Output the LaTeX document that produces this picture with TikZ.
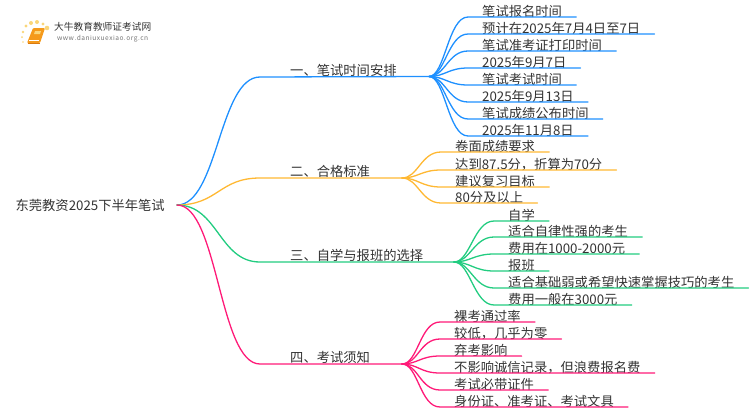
\documentclass[tikz,border=0pt]{standalone}
\usepackage{fontspec}
\setmainfont{Noto Sans CJK SC}
\definecolor{linkblue}{HTML}{1E90FF}
\definecolor{linkorange}{HTML}{FFB833}
\definecolor{linkgreen}{HTML}{22CC80}
\definecolor{linkpink}{HTML}{FF1A78}
\definecolor{inktext}{HTML}{333333}
\definecolor{bookorange}{HTML}{F59A1C}
\definecolor{bookedge}{HTML}{D97A10}
\definecolor{dotyellow}{HTML}{FAD67A}
\tikzset{
  every node/.style={font=\fontsize{13.3}{14}\selectfont, text=inktext, inner sep=0pt},
  rootnode/.style={anchor=east},
  branchnode/.style={anchor=south west, text height=11pt, text depth=1.5pt},
  leafnode/.style={anchor=south west, inner xsep=14pt, text height=11pt, text depth=0.6pt},
  link/.style={line width=1.3pt, line cap=round}
}
\begin{document}
\begin{tikzpicture}[x=1pt, y=-1pt]
\useasboundingbox (0,0) rectangle (750,410);
% Logo
    \foreach \px/\py/\pr in {23/32/1.3,26/26/1.6,31/23/2,37/22/2,43/24/1.7,47/28/2.3,22/37/1,23/42/0.8}
        \fill[dotyellow] (\px,\py) circle(\pr);
    \fill[bookorange, rounded corners=1pt] (33,28) -- (45,28) -- (40,43) -- (27,43) -- cycle;
    \fill[dotyellow] (35,31) -- (41,31) -- (40,34) -- (34,34) -- cycle;
    \draw[white, line width=0.5pt] (29,40.5) -- (39,40.5);
    \draw[bookedge, line width=0.6pt] (27.5,43) -- (39.5,43);
    \node[anchor=west, font=\fontsize{9.7}{12}\selectfont] (logotitle) at (54,27) {大牛教育教师证考试网};
    \node[anchor=west, font=\fontsize{6.6}{8}\selectfont, text=black!55, text width=91pt, align=justify] (logourl) at (57,39) {w\hfill w\hfill w\hfill .\hfill d\hfill a\hfill n\hfill i\hfill u\hfill x\hfill u\hfill e\hfill x\hfill i\hfill a\hfill o\hfill .\hfill o\hfill r\hfill g\hfill .\hfill c\hfill n};
% Root
    \node[rootnode] (root) at (165,205) {东莞教资2025下半年笔试};
    \coordinate (rootend) at (177,205);
% Branches
    \node[branchnode] (one) at (290,77) {一、笔试时间安排};
    \node[branchnode] (two) at (290,178) {二、合格标准};
    \node[branchnode] (three) at (290,262) {三、自学与报班的选择};
    \node[branchnode] (four) at (290,364) {四、考试须知};
    \coordinate (onehub) at (429,76.5);
    \coordinate (twohub) at (402,178);
    \coordinate (threehub) at (454,262);
    \coordinate (fourhub) at (402,364);
    \draw[link, linkblue] (rootend) .. controls (218,205) and (219,77) .. (260,77) -- (onehub);
    \draw[link, linkorange] (rootend) .. controls (218,205) and (219,178) .. (260,178) -- (twohub);
    \draw[link, linkgreen] (rootend) .. controls (218,205) and (219,262) .. (260,262) -- (threehub);
    \draw[link, linkpink] (rootend) .. controls (218,205) and (219,364) .. (260,364) -- (fourhub);
% Leaves of the first branch
    \node[leafnode] (one1) at (468,17) {笔试报名时间};
    \node[leafnode] (one2) at (468,34) {预计在2025年7月4日至7日};
    \node[leafnode] (one3) at (468,51) {笔试准考证打印时间};
    \node[leafnode] (one4) at (468,68) {2025年9月7日};
    \node[leafnode] (one5) at (468,85) {笔试考试时间};
    \node[leafnode] (one6) at (468,102) {2025年9月13日};
    \node[leafnode] (one7) at (468,119) {笔试成绩公布时间};
    \node[leafnode] (one8) at (468,136) {2025年11月8日};
    \foreach \leaf in {one1,one2,one3,one4,one5,one6,one7,one8}
        \draw[link, linkblue] (onehub) .. controls +(16,0) and +(-20,0) .. (\leaf.south west) -- (\leaf.south east);
% Leaves of the second branch
    \node[leafnode] (two1) at (441,152) {卷面成绩要求};
    \node[leafnode] (two2) at (441,170) {达到87.5分，折算为70分};
    \node[leafnode] (two3) at (441,187) {建议复习目标};
    \node[leafnode] (two4) at (441,203) {80分及以上};
    \foreach \leaf in {two1,two2,two3,two4}
        \draw[link, linkorange] (twohub) .. controls +(16,0) and +(-20,0) .. (\leaf.south west) -- (\leaf.south east);
% Leaves of the third branch
    \node[leafnode] (three1) at (494,221) {自学};
    \node[leafnode] (three2) at (494,237) {适合自律性强的考生};
    \node[leafnode] (three3) at (494,254) {费用在1000-2000元};
    \node[leafnode] (three4) at (494,271) {报班};
    \node[leafnode] (three5) at (494,288) {适合基础弱或希望快速掌握技巧的考生};
    \node[leafnode] (three6) at (494,305) {费用一般在3000元};
    \foreach \leaf in {three1,three2,three3,three4,three5,three6}
        \draw[link, linkgreen] (threehub) .. controls +(16,0) and +(-20,0) .. (\leaf.south west) -- (\leaf.south east);
% Leaves of the fourth branch
    \node[leafnode] (four1) at (440,322) {裸考通过率};
    \node[leafnode] (four2) at (440,339) {较低，几乎为零};
    \node[leafnode] (four3) at (440,356) {弃考影响};
    \node[leafnode] (four4) at (440,373) {不影响诚信记录，但浪费报名费};
    \node[leafnode] (four5) at (440,390) {考试必带证件};
    \node[leafnode] (four6) at (440,407) {身份证、准考证、考试文具};
    \foreach \leaf in {four1,four2,four3,four4,four5,four6}
        \draw[link, linkpink] (fourhub) .. controls +(16,0) and +(-20,0) .. (\leaf.south west) -- (\leaf.south east);
\end{tikzpicture}
\end{document}
